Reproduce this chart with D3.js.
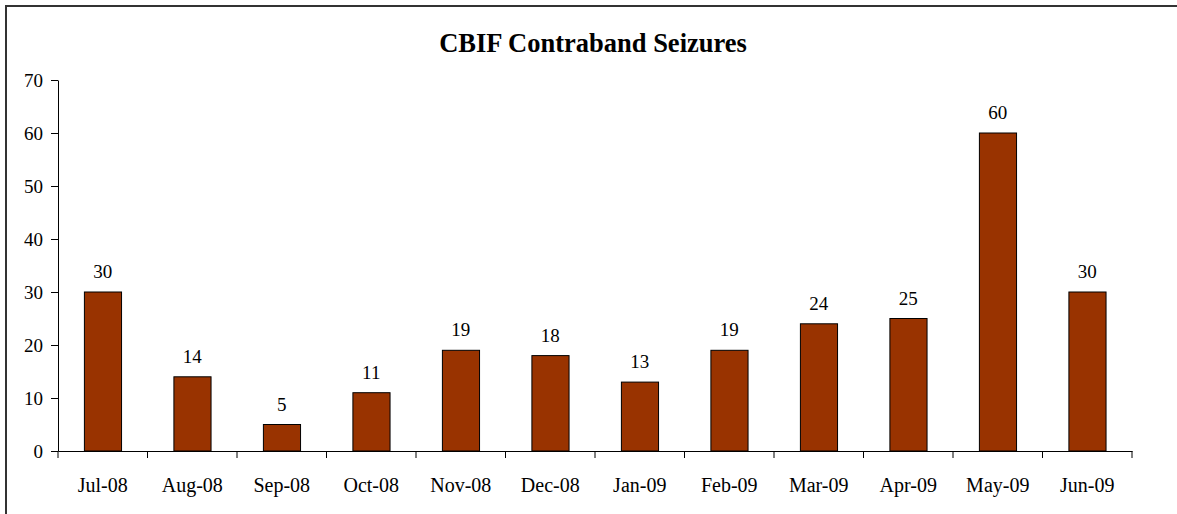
<!DOCTYPE html>
<html>
<head>
<meta charset="utf-8">
<script src="https://cdn.jsdelivr.net/npm/d3@7"></script>
<style>
  body { margin: 0; background: #fff; }
  text { font-family: "Liberation Serif", "Times New Roman", serif; }
</style>
</head>
<body>
<script>
// chart data
const months = ["Jul-08", "Aug-08", "Sep-08", "Oct-08", "Nov-08", "Dec-08",
                "Jan-09", "Feb-09", "Mar-09", "Apr-09", "May-09", "Jun-09"];
const seizures = [30, 14, 5, 11, 19, 18, 13, 19, 24, 25, 60, 30];
const yTicks = [0, 10, 20, 30, 40, 50, 60, 70];

let W = 1177, H = 514;
let margin = {top: 80, right: 45, bottom: 63, left: 58};

let svg = d3.select("body").append("svg")
  .attr("width", W)
  .attr("height", H);

// outer frame (left + top only visible)
svg.append("path")
  .attr("d", "M6," + H + " L6,6 L" + W + ",6")
  .attr("fill", "none")
  .attr("stroke", "#333")
  .attr("stroke-width", 2);

let x = d3.scaleBand()
  .domain(months)
  .range([margin.left, W - margin.right])
  .padding(0);

let y = d3.scaleLinear()
  .domain([0, 70])
  .range([H - margin.bottom, margin.top]);

// title
svg.append("text")
  .attr("x", 593)
  .attr("y", 52)
  .attr("text-anchor", "middle")
  .style("font-size", "26.5px")
  .style("font-weight", "bold")
  .text("CBIF Contraband Seizures");

// y axis
let yAxis = svg.append("g")
  .attr("transform", "translate(" + margin.left + ",0)")
  .call(d3.axisLeft(y).tickValues(yTicks).tickSize(7).tickSizeOuter(0).tickPadding(8));
yAxis.select(".domain").attr("stroke", "#000");
yAxis.selectAll("text").style("font-size", "19px").attr("fill", "#000");

// bars
let bw = x.bandwidth();
svg.selectAll(".bar")
  .data(seizures)
  .enter()
  .append("rect")
  .attr("class", "bar")
  .attr("x", (d, i) => x(months[i]) + bw * 0.295)
  .attr("y", d => y(d))
  .attr("width", bw * 0.415)
  .attr("height", d => y(0) - y(d))
  .attr("fill", "#993300")
  .attr("stroke", "#000")
  .attr("stroke-width", 1);

// value labels
svg.selectAll(".vlabel")
  .data(seizures)
  .enter()
  .append("text")
  .attr("class", "vlabel")
  .attr("x", (d, i) => x(months[i]) + bw / 2)
  .attr("y", d => y(d) - 14)
  .attr("text-anchor", "middle")
  .style("font-size", "19px")
  .text(d => d);

// x axis
let xAxis = svg.append("g")
  .attr("transform", "translate(0," + y(0) + ")")
  .call(d3.axisBottom(x).tickSize(0).tickPadding(27));
xAxis.select(".domain").attr("stroke", "#000");
xAxis.selectAll("text").style("font-size", "20px").attr("fill", "#000");

// boundary ticks between categories
let bounds = months.map(m => x(m)).concat([x(months[months.length - 1]) + bw]);
svg.selectAll(".xtick")
  .data(bounds)
  .enter()
  .append("line")
  .attr("x1", d => d)
  .attr("x2", d => d)
  .attr("y1", y(0))
  .attr("y2", y(0) + 7)
  .attr("stroke", "#000");
</script>
</body>
</html>
